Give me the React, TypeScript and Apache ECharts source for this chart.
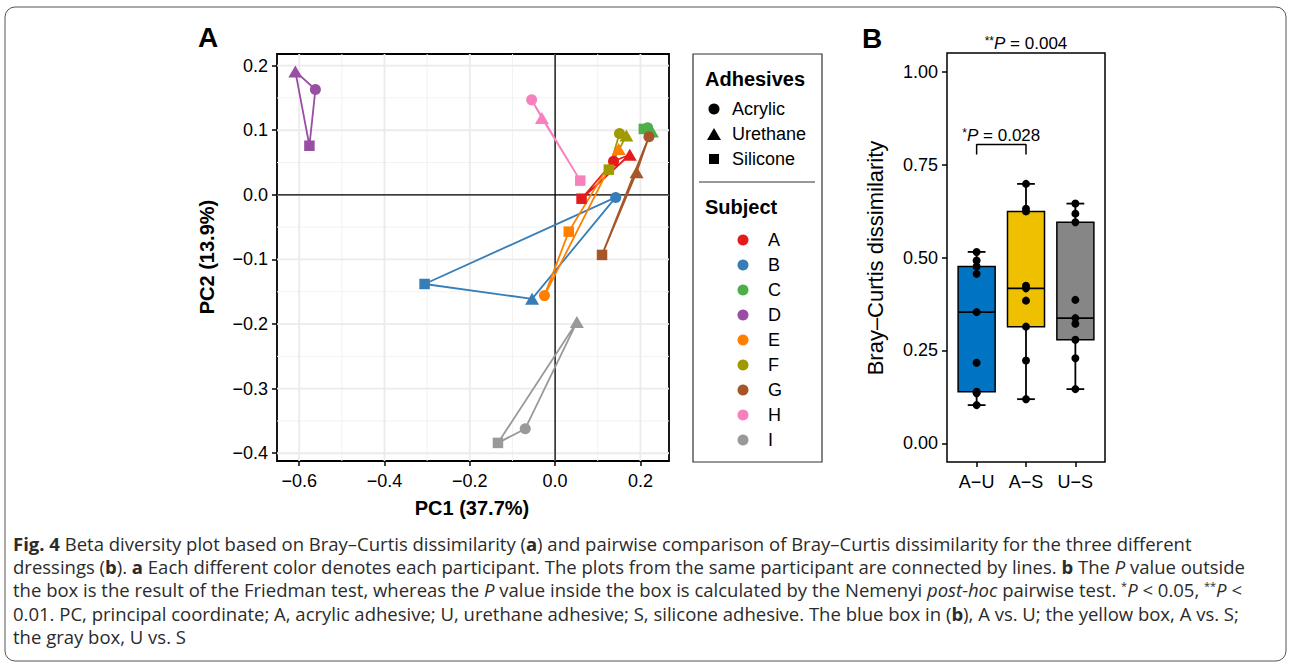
import React, { useEffect, useRef } from "react";
import * as echarts from "echarts";

// ---------- Panel A data ----------
const subjects = ["A", "B", "C", "D", "E", "F", "G", "H", "I"];
const subjectColors = ["#E41A1C", "#377EB8", "#4DAF4A", "#984EA3", "#FF7F00", "#9E9A00", "#A65628", "#F781BF", "#999999"];
const adhesives = ["Acrylic", "Urethane", "Silicone"];

const acrylicPC1 = [0.137, 0.142, 0.217, -0.562, -0.025, 0.151, 0.22, -0.055, -0.07];
const acrylicPC2 = [0.052, -0.004, 0.104, 0.163, -0.156, 0.095, 0.09, 0.147, -0.362];
const urethanePC1 = [0.175, -0.054, 0.227, -0.609, 0.149, 0.167, 0.191, -0.031, 0.051];
const urethanePC2 = [0.062, -0.161, 0.098, 0.191, 0.071, 0.092, 0.035, 0.119, -0.197];
const siliconePC1 = [0.062, -0.306, 0.208, -0.576, 0.032, 0.126, 0.11, 0.059, -0.134];
const siliconePC2 = [-0.006, -0.138, 0.102, 0.076, -0.057, 0.039, -0.093, 0.022, -0.384];

const pc1Ticks = [-0.6, -0.4, -0.2, 0, 0.2];
const pc1Minor = [-0.5, -0.3, -0.1, 0.1];
const pc2Ticks = [-0.4, -0.3, -0.2, -0.1, 0, 0.1, 0.2];
const pc2Minor = [-0.35, -0.25, -0.15, -0.05, 0.05, 0.15];

// ---------- Panel B data ----------
const groups = ["A−U", "A−S", "U−S"];
const groupColors = ["#0073C2", "#EFC000", "#868686"];
const whiskerLow = [0.103, 0.119, 0.146];
const quartile1 = [0.139, 0.314, 0.279];
const medians = [0.353, 0.417, 0.337];
const quartile3 = [0.476, 0.624, 0.595];
const whiskerHigh = [0.515, 0.698, 0.645];
const pointsAU = [0.103, 0.135, 0.139, 0.217, 0.353, 0.456, 0.476, 0.492, 0.515];
const pointsAS = [0.119, 0.223, 0.314, 0.384, 0.417, 0.424, 0.624, 0.631, 0.698];
const pointsUS = [0.146, 0.229, 0.279, 0.322, 0.337, 0.386, 0.595, 0.618, 0.645];
const bcTicks = [0, 0.25, 0.5, 0.75, 1];

const FONT = "Liberation Sans";
const CAP_FONT = "Open Sans";
const CAP_SIZE = 18.5;
const CAP_COLOR = "#2b2b2b";

const xMinA = -0.652, xMaxA = 0.267, yMinA = -0.412, yMaxA = 0.218;

const minus = (s: string) => s.replace("-", "−");

function buildOption() {
  const gridLineData: number[][] = [
    ...pc1Minor.map((v) => [0, v, 0]),
    ...pc2Minor.map((v) => [1, v, 0]),
    ...pc1Ticks.map((v) => [0, v, 1]),
    ...pc2Ticks.map((v) => [1, v, 1]),
    [0, 0, 2],
    [1, 0, 2],
  ];

  const series: any[] = [];
  series.push({
    type: "custom",
    xAxisIndex: 0,
    yAxisIndex: 0,
    silent: true,
    z: 1,
    data: gridLineData,
    renderItem: (params: any, api: any) => {
      const o = api.value(0), v = api.value(1), k = api.value(2);
      const p1 = o === 0 ? api.coord([v, yMinA]) : api.coord([xMinA, v]);
      const p2 = o === 0 ? api.coord([v, yMaxA]) : api.coord([xMaxA, v]);
      return {
        type: "line",
        shape: { x1: p1[0], y1: p1[1], x2: p2[0], y2: p2[1] },
        style: {
          stroke: k === 2 ? "#000" : k === 1 ? "#EBEBEB" : "#F2F2F2",
          lineWidth: k === 2 ? 1.3 : k === 1 ? 1.8 : 1,
        },
      };
    },
  });

  subjects.forEach((s, i) => {
    series.push({
      type: "line",
      name: s + "-path",
      xAxisIndex: 0,
      yAxisIndex: 0,
      silent: true,
      z: 2,
      symbol: "none",
      showSymbol: false,
      lineStyle: { color: subjectColors[i], width: 1.8 },
      data: [
        [acrylicPC1[i], acrylicPC2[i]],
        [urethanePC1[i], urethanePC2[i]],
        [siliconePC1[i], siliconePC2[i]],
        [acrylicPC1[i], acrylicPC2[i]],
      ],
    });
  });
  subjects.forEach((s, i) => {
    series.push({
      type: "scatter",
      name: s,
      xAxisIndex: 0,
      yAxisIndex: 0,
      silent: true,
      z: 3,
      itemStyle: { color: subjectColors[i], opacity: 1 },
      data: [
        { value: [acrylicPC1[i], acrylicPC2[i]], symbol: "circle", symbolSize: 11 },
        { value: [urethanePC1[i], urethanePC2[i]], symbol: "triangle", symbolSize: [14, 12] },
        { value: [siliconePC1[i], siliconePC2[i]], symbol: "rect", symbolSize: 10.5 },
      ],
    });
  });

  // Panel B boxes
  series.push({
    type: "custom",
    xAxisIndex: 1,
    yAxisIndex: 1,
    silent: true,
    z: 2,
    data: groups.map((g, i) => [i + 1, whiskerLow[i], quartile1[i], medians[i], quartile3[i], whiskerHigh[i]]),
    encode: { x: 0, y: [1, 2, 3, 4, 5] },
    renderItem: (params: any, api: any) => {
      const x = api.value(0);
      const lo = api.value(1), q1 = api.value(2), md = api.value(3), q3 = api.value(4), hi = api.value(5);
      const hw = 0.375, cw = 0.18;
      const c = (a: number, b: number) => api.coord([a, b]);
      const line = (p: number[], q: number[], w: number) => ({
        type: "line",
        shape: { x1: p[0], y1: p[1], x2: q[0], y2: q[1] },
        style: { stroke: "#000", lineWidth: w },
      });
      const tl = c(x - hw, q3), br = c(x + hw, q1);
      return {
        type: "group",
        children: [
          line(c(x, q3), c(x, hi), 1.8),
          line(c(x, lo), c(x, q1), 1.8),
          line(c(x - cw, hi), c(x + cw, hi), 1.8),
          line(c(x - cw, lo), c(x + cw, lo), 1.8),
          {
            type: "rect",
            shape: { x: tl[0], y: tl[1], width: br[0] - tl[0], height: br[1] - tl[1] },
            style: { fill: groupColors[params.dataIndex], stroke: "#000", lineWidth: 1.5 },
          },
          line(c(x - hw, md), c(x + hw, md), 1.8),
        ],
      };
    },
  });
  [pointsAU, pointsAS, pointsUS].forEach((pts, gi) => {
    series.push({
      type: "scatter",
      xAxisIndex: 1,
      yAxisIndex: 1,
      silent: true,
      z: 4,
      symbolSize: 8,
      itemStyle: { color: "#000", opacity: 1 },
      data: pts.map((v) => [gi + 1, v]),
    });
  });
  // significance bracket
  series.push({
    type: "line",
    xAxisIndex: 1,
    yAxisIndex: 1,
    silent: true,
    z: 4,
    symbol: "none",
    lineStyle: { color: "#000", width: 1.5 },
    data: [[1, 0.777], [1, 0.804], [2, 0.804], [2, 0.777]],
  });
  series.push({
    type: "scatter",
    xAxisIndex: 1,
    yAxisIndex: 1,
    silent: true,
    z: 4,
    symbolSize: 0,
    itemStyle: { opacity: 1, color: "#000" },
    data: [[1.5, 0.829]],
    label: {
      show: true,
      position: "inside",
      opacity: 1,
      formatter: "{s|*}{i|P} = 0.028",
      color: "#000",
      fontFamily: FONT,
      fontSize: 17,
      rich: {
        s: { fontFamily: FONT, fontSize: 12, verticalAlign: "top", color: "#000" },
        i: { fontFamily: FONT, fontSize: 17, fontStyle: "italic", color: "#000" },
      },
    },
  });

  const tickLabel = { color: "#000", fontFamily: FONT, fontSize: 18 };
  const axisTick = { show: true, length: 5, lineStyle: { color: "#000", width: 1.5 } };

  const legend: any[] = [];
  legend.push({
    type: "rect",
    shape: { x: 693, y: 54, width: 129, height: 408 },
    style: { fill: "#fff", stroke: "#333", lineWidth: 1.2 },
  });
  legend.push({
    type: "text",
    x: 705,
    y: 79,
    style: { text: "Adhesives", fontFamily: FONT, fontWeight: "bold", fontSize: 20, fill: "#000", verticalAlign: "middle" },
  });
  adhesives.forEach((a, i) => {
    const cy = 109 + 25 * i;
    if (i === 0) legend.push({ type: "circle", shape: { cx: 714, cy, r: 5.5 }, style: { fill: "#000" } });
    if (i === 1)
      legend.push({
        type: "polygon",
        shape: { points: [[714, cy - 6], [721, cy + 6], [707, cy + 6]] },
        style: { fill: "#000" },
      });
    if (i === 2) legend.push({ type: "rect", shape: { x: 709, y: cy - 5, width: 10, height: 10 }, style: { fill: "#000" } });
    legend.push({
      type: "text",
      x: 732,
      y: cy,
      style: { text: a, fontFamily: FONT, fontSize: 18, fill: "#000", verticalAlign: "middle" },
    });
  });
  legend.push({ type: "line", shape: { x1: 699, y1: 182, x2: 815, y2: 182 }, style: { stroke: "#333", lineWidth: 1.2 } });
  legend.push({
    type: "text",
    x: 705,
    y: 207,
    style: { text: "Subject", fontFamily: FONT, fontWeight: "bold", fontSize: 20, fill: "#000", verticalAlign: "middle" },
  });
  subjects.forEach((s, i) => {
    const cy = 240 + 25 * i;
    legend.push({ type: "circle", shape: { cx: 743, cy, r: 5.5 }, style: { fill: subjectColors[i] } });
    legend.push({
      type: "text",
      x: 768,
      y: cy,
      style: { text: s, fontFamily: FONT, fontSize: 18, fill: "#000", verticalAlign: "middle" },
    });
  });

  const capRich = {
    b: { fontFamily: CAP_FONT, fontSize: CAP_SIZE, fontWeight: "bold", fill: CAP_COLOR },
    i: { fontFamily: CAP_FONT, fontSize: CAP_SIZE, fontStyle: "italic", fill: CAP_COLOR },
    s: { fontFamily: CAP_FONT, fontSize: 11, verticalAlign: "top", fill: CAP_COLOR },
  };
  const captionLines = [
    "{b|Fig. 4} Beta diversity plot based on Bray–Curtis dissimilarity ({b|a}) and pairwise comparison of Bray–Curtis dissimilarity for the three different",
    "dressings ({b|b}). {b|a} Each different color denotes each participant. The plots from the same participant are connected by lines. {b|b} The {i|P} value outside",
    "the box is the result of the Friedman test, whereas the {i|P} value inside the box is calculated by the Nemenyi {i|post-hoc} pairwise test. {s|*}{i|P} < 0.05, {s|**}{i|P} <",
    "0.01. PC, principal coordinate; A, acrylic adhesive; U, urethane adhesive; S, silicone adhesive. The blue box in ({b|b}), A vs. U; the yellow box, A vs. S;",
    "the gray box, U vs. S",
  ];
  const caption = captionLines.map((t, i) => ({
    type: "text",
    x: 13,
    y: 543 + 23.4 * i,
    style: {
      text: t,
      fontFamily: CAP_FONT,
      fontSize: CAP_SIZE,
      fill: CAP_COLOR,
      verticalAlign: "middle",
      rich: capRich,
    },
  }));

  return {
    animation: false,
    backgroundColor: "#fff",
    grid: [
      { left: 277, top: 54, width: 392, height: 407, show: true, borderColor: "#000", borderWidth: 1.8, backgroundColor: "transparent" },
      { left: 947, top: 53, width: 158, height: 409, show: true, borderColor: "#000", borderWidth: 1.5, backgroundColor: "transparent" },
    ],
    xAxis: [
      {
        type: "value",
        gridIndex: 0,
        min: xMinA,
        max: xMaxA,
        splitLine: { show: false },
        axisLine: { show: false, onZero: false },
        axisTick: { ...axisTick, customValues: pc1Ticks },
        axisLabel: { ...tickLabel, margin: 11, customValues: pc1Ticks, formatter: (v: number) => minus(v.toFixed(1)) },
      },
      {
        type: "value",
        gridIndex: 1,
        min: 0.4,
        max: 3.6,
        splitLine: { show: false },
        axisLine: { show: false, onZero: false },
        axisTick: { ...axisTick, customValues: [1, 2, 3] },
        axisLabel: { ...tickLabel, margin: 11, customValues: [1, 2, 3], formatter: (v: number) => groups[Math.round(v) - 1] },
      },
    ],
    yAxis: [
      {
        type: "value",
        gridIndex: 0,
        min: yMinA,
        max: yMaxA,
        splitLine: { show: false },
        axisLine: { show: false, onZero: false },
        axisTick: { ...axisTick, customValues: pc2Ticks },
        axisLabel: { ...tickLabel, margin: 9, customValues: pc2Ticks, formatter: (v: number) => minus(v.toFixed(1)) },
      },
      {
        type: "value",
        gridIndex: 1,
        min: -0.05,
        max: 1.05,
        splitLine: { show: false },
        axisLine: { show: false, onZero: false },
        axisTick: { ...axisTick, customValues: bcTicks },
        axisLabel: { ...tickLabel, margin: 9, customValues: bcTicks, formatter: (v: number) => v.toFixed(2) },
      },
    ],
    series,
    graphic: [
      {
        type: "rect",
        silent: true,
        z: -10,
        shape: { x: 5, y: 7, width: 1281, height: 654, r: 10 },
        style: { fill: "none", stroke: "#555", lineWidth: 1 },
      },
      { type: "text", x: 208, y: 37, style: { text: "A", fontFamily: FONT, fontWeight: "bold", fontSize: 28, fill: "#000", align: "center", verticalAlign: "middle" } },
      { type: "text", x: 872, y: 38, style: { text: "B", fontFamily: FONT, fontWeight: "bold", fontSize: 28, fill: "#000", align: "center", verticalAlign: "middle" } },
      { type: "text", x: 472, y: 508, style: { text: "PC1 (37.7%)", fontFamily: FONT, fontWeight: "bold", fontSize: 20, fill: "#000", align: "center", verticalAlign: "middle" } },
      { type: "text", x: 207, y: 257, rotation: Math.PI / 2, style: { text: "PC2 (13.9%)", fontFamily: FONT, fontWeight: "bold", fontSize: 20, fill: "#000", align: "center", verticalAlign: "middle" } },
      { type: "text", x: 875, y: 258, rotation: Math.PI / 2, style: { text: "Bray–Curtis dissimilarity", fontFamily: FONT, fontSize: 22, fill: "#000", align: "center", verticalAlign: "middle" } },
      {
        type: "text",
        x: 1026,
        y: 43,
        style: {
          text: "{s|**}{i|P} = 0.004",
          fontFamily: FONT,
          fontSize: 17,
          fill: "#000",
          align: "center",
          verticalAlign: "middle",
          rich: {
            s: { fontFamily: FONT, fontSize: 12, verticalAlign: "top", fill: "#000" },
            i: { fontFamily: FONT, fontSize: 17, fontStyle: "italic", fill: "#000" },
          },
        },
      },
      ...legend,
      ...caption,
    ],
  };
}

export default function App() {
  const ref = useRef<HTMLDivElement>(null);
  useEffect(() => {
    const chart = echarts.init(ref.current as HTMLDivElement, null, { renderer: "svg" });
    chart.setOption(buildOption() as any);
    return () => chart.dispose();
  }, []);
  return (
    <div
      ref={ref}
      style={{ position: "fixed", left: 0, top: 0, width: 1290, height: 668, background: "#fff" }}
    />
  );
}
